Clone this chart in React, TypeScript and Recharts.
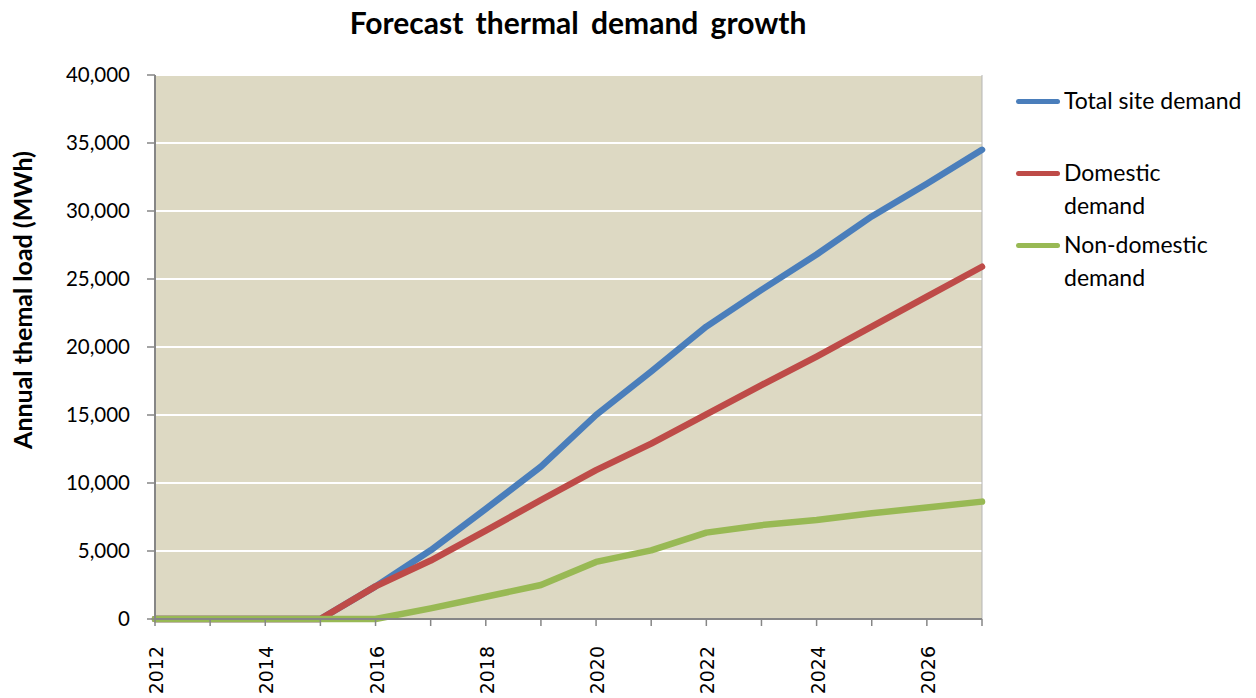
import React from "react";
import {
  LineChart,
  Line,
  XAxis,
  YAxis,
  CartesianGrid,
  ReferenceLine,
} from "recharts";

// Forecast years and annual thermal load (MWh) per demand type
const years = [
  2012, 2013, 2014, 2015, 2016, 2017, 2018, 2019, 2020, 2021, 2022, 2023,
  2024, 2025, 2026, 2027,
];
const totalSite = [
  0, 0, 0, 0, 2400, 5050, 8100, 11200, 15000, 18200, 21500, 24200, 26800,
  29600, 32000, 34500,
];
const domestic = [
  0, 0, 0, 0, 2400, 4300, 6500, 8750, 10950, 12900, 15050, 17200, 19300,
  21500, 23700, 25900,
];
const nonDomestic = [
  0, 0, 0, 0, 0, 780, 1640, 2500, 4200, 5050, 6350, 6900, 7280, 7770, 8200,
  8630,
];
const yTicks = [0, 5000, 10000, 15000, 20000, 25000, 30000, 35000, 40000];

const series = [
  { key: "total", name: "Total site demand", lines: ["Total site demand"], color: "#4A7EBB" },
  { key: "domestic", name: "Domestic demand", lines: ["Domestic", "demand"], color: "#BE4B48" },
  { key: "nonDomestic", name: "Non-domestic demand", lines: ["Non-domestic", "demand"], color: "#98B954" },
];

const data = years.map((year, i) => ({
  year,
  total: totalSite[i],
  domestic: domestic[i],
  nonDomestic: nonDomestic[i],
}));

const CALIBRI = "Lato, 'Open Sans', sans-serif";

// Rotated year labels, only every second year gets text
const YearTick = ({ x, y, payload }: any) => {
  if (payload.value % 2 !== 0) return null;
  return (
    <text
      x={x + 1}
      y={y + 18}
      transform={`rotate(-90, ${x + 1}, ${y + 18})`}
      textAnchor="end"
      dominantBaseline="central"
      fontFamily="'DejaVu Sans', Verdana, sans-serif"
      fontSize={19}
      fill="#000"
    >
      {payload.value}
    </text>
  );
};

// Legend sits to the right of the plot, outside the chart's own layout
const SideLegend = () => (
  <div
    style={{
      position: "absolute",
      left: 1016,
      top: 84,
      fontFamily: CALIBRI,
      fontSize: 23,
      color: "#000",
    }}
  >
    {series.map((s) => (
      <div key={s.key} style={{ height: 72, position: "relative" }}>
        <div
          style={{
            position: "absolute",
            left: 0,
            top: 15,
            width: 44,
            height: 5,
            borderRadius: 3,
            background: s.color,
          }}
        />
        <div
          style={{
            position: "absolute",
            left: 48,
            top: 0,
            lineHeight: "33px",
            whiteSpace: "nowrap",
          }}
        >
          {s.lines.map((l) => (
            <div key={l}>{l}</div>
          ))}
        </div>
      </div>
    ))}
  </div>
);

export default function App() {
  return (
    <div
      style={{
        position: "absolute",
        left: 0,
        top: 0,
        width: 1256,
        height: 698,
        background: "#fff",
      }}
    >
      <div
        style={{
          position: "absolute",
          left: 0,
          top: 4,
          width: 1156,
          textAlign: "center",
          fontFamily: CALIBRI,
          fontWeight: 700,
          fontSize: 30,
          wordSpacing: 5,
          color: "#000",
        }}
      >
        Forecast thermal demand growth
      </div>
      <div
        style={{
          position: "absolute",
          left: 22,
          top: 300,
          transform: "translate(-50%, -50%) rotate(-90deg)",
          whiteSpace: "nowrap",
          fontFamily: CALIBRI,
          fontWeight: 700,
          fontSize: 25,
          color: "#000",
        }}
      >
        Annual themal load (MWh)
      </div>
      <LineChart
        width={1256}
        height={698}
        data={data}
        margin={{ top: 75, right: 274, left: 0, bottom: 0 }}
      >
        <CartesianGrid
          horizontal
          vertical={false}
          fill="#DDD9C3"
          stroke="#FFFFFF"
          strokeWidth={2}
        />
        <XAxis
          dataKey="year"
          type="number"
          domain={[2012, 2027]}
          ticks={years}
          interval={0}
          height={79}
          tick={<YearTick />}
          tickSize={7}
          axisLine={{ stroke: "#868686", strokeWidth: 2 }}
          tickLine={{ stroke: "#868686", strokeWidth: 1.5 }}
        />
        <YAxis
          domain={[0, 40000]}
          ticks={yTicks}
          width={155}
          tickSize={8}
          tickMargin={17}
          tickFormatter={(v: number) => v.toLocaleString("en-US")}
          tick={{ fontFamily: CALIBRI, fontSize: 20.5, fill: "#000" }}
          axisLine={{ stroke: "#868686", strokeWidth: 2 }}
          tickLine={{ stroke: "#868686", strokeWidth: 1.5 }}
        />
        <ReferenceLine x={2027} stroke="#B5B5B5" strokeWidth={1} />
        {series.map((s) => (
          <Line
            key={s.key}
            dataKey={s.key}
            name={s.name}
            type="linear"
            stroke={s.color}
            strokeWidth={6.5}
            strokeLinecap="round"
            strokeLinejoin="round"
            dot={false}
            activeDot={false}
            isAnimationActive={false}
          />
        ))}
      </LineChart>
      <SideLegend />
    </div>
  );
}
